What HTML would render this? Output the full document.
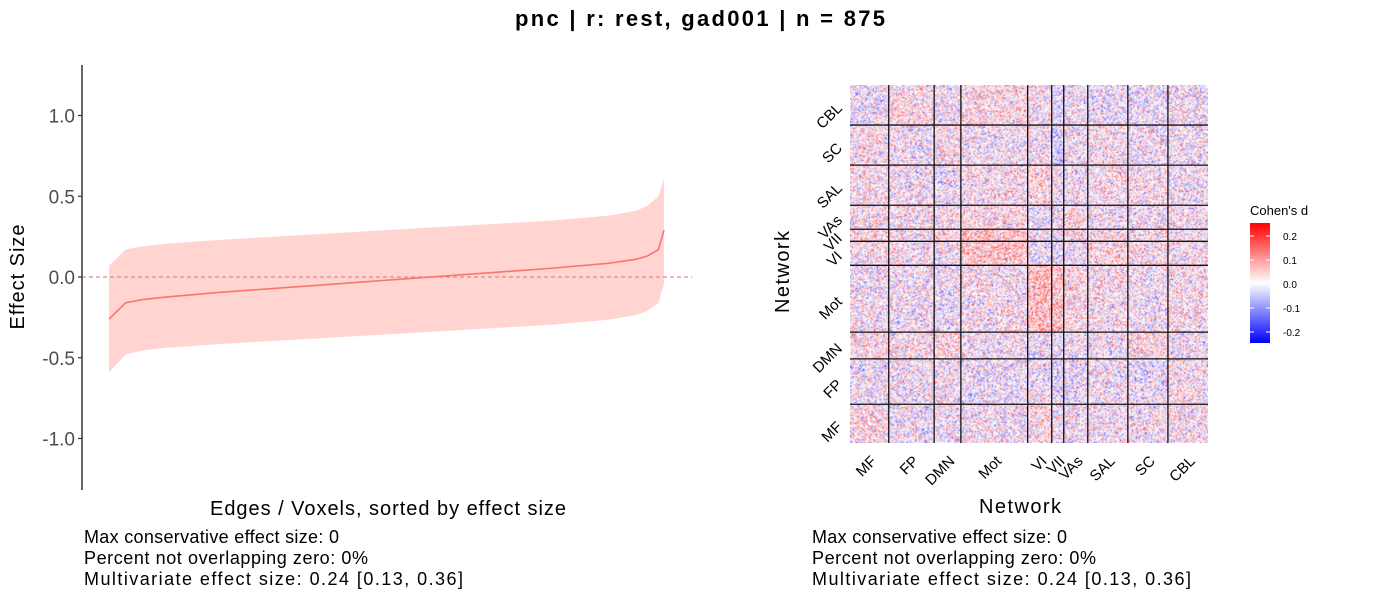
<!DOCTYPE html>
<html><head><meta charset="utf-8"><style>
body{margin:0;background:#fff;}
svg{display:block;font-family:"Liberation Sans",Arial,sans-serif;}
</style></head><body>
<svg id="root" width="1400" height="600" viewBox="0 0 1400 600" xmlns="http://www.w3.org/2000/svg">
<text x="700" y="26" text-anchor="middle" font-size="22" font-weight="bold" textLength="370">pnc | r: rest, gad001 | n = 875</text>
<g id="left"></g>
<g id="right"></g>
<foreignObject x="850" y="85" width="358" height="358">
<canvas id="hm" width="268" height="268" style="width:358px;height:358px;display:block" xmlns="http://www.w3.org/1999/xhtml"></canvas>
</foreignObject>
<g id="rightover"></g>
</svg>
<script>
// ---- left chart data ----
const xFrac = [0, 0.03, 0.06, 0.1, 0.2, 0.3, 0.4, 0.5, 0.6, 0.7, 0.8, 0.9, 0.95, 0.97, 0.99, 1.0];
const estVals = [-0.26, -0.16, -0.14, -0.125, -0.095, -0.07, -0.045, -0.02, 0.005, 0.03, 0.055, 0.085, 0.11, 0.13, 0.17, 0.29];
const upperVals = [0.07, 0.17, 0.19, 0.205, 0.23, 0.25, 0.27, 0.29, 0.31, 0.33, 0.35, 0.38, 0.41, 0.44, 0.5, 0.61];
const lowerVals = [-0.59, -0.48, -0.455, -0.44, -0.415, -0.395, -0.375, -0.355, -0.335, -0.315, -0.295, -0.265, -0.235, -0.21, -0.16, -0.04];
const yTicks = [1.0, 0.5, 0.0, -0.5, -1.0];
const yTickLabels = ["1.0", "0.5", "0.0", "-0.5", "-1.0"];
// ---- heatmap data ----
const networks = ["MF","FP","DMN","Mot","VI","VII","VAs","SAL","SC","CBL"];
const netSizes = [29,34,20,50,18,9,18,30,30,30];
const blockMeans = [
 [0.02,-0.01,0.0,0.0,0.02,0.0,0.0,0.0,0.0,0.01],
 [-0.01,0.0,0.0,-0.01,0.0,-0.02,-0.01,0.0,-0.01,0.01],
 [0.02,0.01,0.02,0.0,-0.01,-0.02,0.0,0.0,0.02,0.0],
 [0.0,0.0,-0.01,0.01,0.06,0.05,0.02,0.01,0.0,0.01],
 [0.01,0.01,0.0,0.05,-0.02,-0.02,0.0,0.03,0.02,0.01],
 [0.03,0.01,0.02,0.05,0.0,0.0,0.02,0.02,0.02,0.01],
 [0.01,0.01,0.01,0.02,-0.01,0.0,0.02,0.0,0.0,0.01],
 [0.01,0.0,-0.01,0.01,0.03,0.0,0.0,0.01,0.01,0.0],
 [0.01,0.0,0.01,0.0,0.01,-0.03,0.0,0.01,0.0,0.0],
 [-0.01,0.02,0.0,0.02,0.01,-0.02,0.0,-0.01,-0.01,0.0]
];
const legendTicks = [0.2, 0.1, 0.0, -0.1, -0.2];
const legendLabels = ["0.2","0.1","0.0","-0.1","-0.2"];

const NS="http://www.w3.org/2000/svg";
function mk(p,tag,attrs,txt){const e=document.createElementNS(NS,tag);for(const k in attrs)e.setAttribute(k,attrs[k]);if(txt!=null)e.textContent=txt;p.appendChild(e);return e;}

const L=document.getElementById('left');
const ys=v=>277-v*161.5;
const xs=f=>109+f*555;
let d="M"+xFrac.map((f,i)=>xs(f)+","+ys(upperVals[i])).join("L");
for(let i=xFrac.length-1;i>=0;i--) d+="L"+xs(xFrac[i])+","+ys(lowerVals[i]);
let band=mk(L,'path',{d:d+"Z",fill:"#ffd4d1"});


let zl=mk(L,'line',{x1:82,x2:692,y1:ys(0),y2:ys(0),stroke:"#d98a8a","stroke-width":1.2,"stroke-dasharray":"4,3"});


let ln=mk(L,'path',{d:"M"+xFrac.map((f,i)=>xs(f)+","+ys(estVals[i])).join("L"),fill:"none",stroke:"#f8766d","stroke-width":1.6});


let ax=mk(L,'line',{x1:82,x2:82,y1:65,y2:490,stroke:"#333","stroke-width":1.5});


yTicks.forEach((v,i)=>{
 let t=mk(L,'line',{x1:78,x2:82,y1:ys(v),y2:ys(v),stroke:"#333","stroke-width":1.2});
 
 
 let lb=mk(L,'text',{x:75,y:ys(v)+7,"text-anchor":"end","font-size":19,fill:"#4d4d4d"},yTickLabels[i]);
 
 
});
let yt=mk(L,'text',{x:0,y:0,transform:"translate(24,277) rotate(-90)","text-anchor":"middle","font-size":20,textLength:"105"},"Effect Size");


let xt=mk(L,'text',{x:388,y:515,"text-anchor":"middle","font-size":20,textLength:"356"},"Edges / Voxels, sorted by effect size");


const stats=["Max conservative effect size: 0","Percent not overlapping zero: 0%","Multivariate effect size: 0.24 [0.13, 0.36]"];
const statLens=[255,284,379];
[84,812].forEach(x0=>{
 stats.forEach((s,i)=>{
  let st=mk(L,'text',{x:x0,y:543+i*21,"font-size":18,textLength:statLens[i]},s);
  
  
 });
});

const N=netSizes.reduce((a,b)=>a+b,0);
const netOf=[];netSizes.forEach((s,k)=>{for(let i=0;i<s;i++)netOf.push(k);});
function h(a,b){let x=(a*374761393+b*668265263)|0;x=(x^(x>>>13))*1274126177|0;x=x^(x>>>16);return ((x>>>0)%10000)/10000;}
function col(v){let t=Math.max(-1,Math.min(1,v/0.25));
 if(t>=0){let g=Math.round(255*(1-t));return [255,g,g];} let g=Math.round(255*(1+t));return [g,g,255];}
const cv=document.getElementById('hm');const cx=cv.getContext('2d');
const img=cx.createImageData(N,N);
for(let r=0;r<N;r++)for(let c=0;c<N;c++){
 const a=Math.min(r,c),b=Math.max(r,c);
 const v=blockMeans[netOf[r]][netOf[c]]+(h(a,b)+h(b+7,a+3)+h(a*3+1,b*5+2)-1.5)*0.12;
 const [R,G,B]=col(v);const py=N-1-r;const o=(py*N+c)*4;
 img.data[o]=R;img.data[o+1]=G;img.data[o+2]=B;img.data[o+3]=255;
}
cx.putImageData(img,0,0);
const O=document.getElementById('rightover');
const px=358/N;let acc=0;const bounds=[];
netSizes.forEach(s=>{bounds.push(acc);acc+=s;});
bounds.forEach((b,k)=>{
 if(k>0){
  let vl=mk(O,'line',{x1:850+b*px,x2:850+b*px,y1:85,y2:443,stroke:"#111","stroke-width":1.3});
  
  
  let hl=mk(O,'line',{x1:850,x2:1208,y1:443-b*px,y2:443-b*px,stroke:"#111","stroke-width":1.3});
  
  
 }
 const mid=(b+netSizes[k]/2)*px;
 let xl=mk(O,'text',{x:0,y:0,transform:`translate(${850+mid+8},${462}) rotate(-45)`,"text-anchor":"end","font-size":15},networks[k]);
 
 
 let yl=mk(O,'text',{x:0,y:0,transform:`translate(${843},${443-mid+4}) rotate(-45)`,"text-anchor":"end","font-size":15},networks[k]);
 
 
});
let hx=mk(O,'text',{x:1020,y:513,"text-anchor":"middle","font-size":20,textLength:"82"},"Network");


let hy=mk(O,'text',{x:0,y:0,transform:"translate(789,272) rotate(-90)","text-anchor":"middle","font-size":20,textLength:"82"},"Network");


let defs=mk(O,'defs',{});let gr=mk(defs,'linearGradient',{id:"lg",x1:0,y1:0,x2:0,y2:1});
mk(gr,'stop',{offset:"0",'stop-color':"#ff0000"});mk(gr,'stop',{offset:"0.5",'stop-color':"#ffffff"});mk(gr,'stop',{offset:"1",'stop-color':"#0000ff"});
let lt=mk(O,'text',{x:1250,y:215,"font-size":13},"Cohen's d");


let lb=mk(O,'rect',{x:1250,y:223,width:20,height:120,fill:"url(#lg)"});


const ly=v=>284-v*240;
legendTicks.forEach((v,i)=>{
 mk(O,'line',{x1:1250,x2:1254,y1:ly(v),y2:ly(v),stroke:"#fff"});
 mk(O,'line',{x1:1266,x2:1270,y1:ly(v),y2:ly(v),stroke:"#fff"});
 let t=mk(O,'text',{x:1283,y:ly(v)+4,"font-size":10},legendLabels[i]);
 
 
});
</script>
</body></html>
